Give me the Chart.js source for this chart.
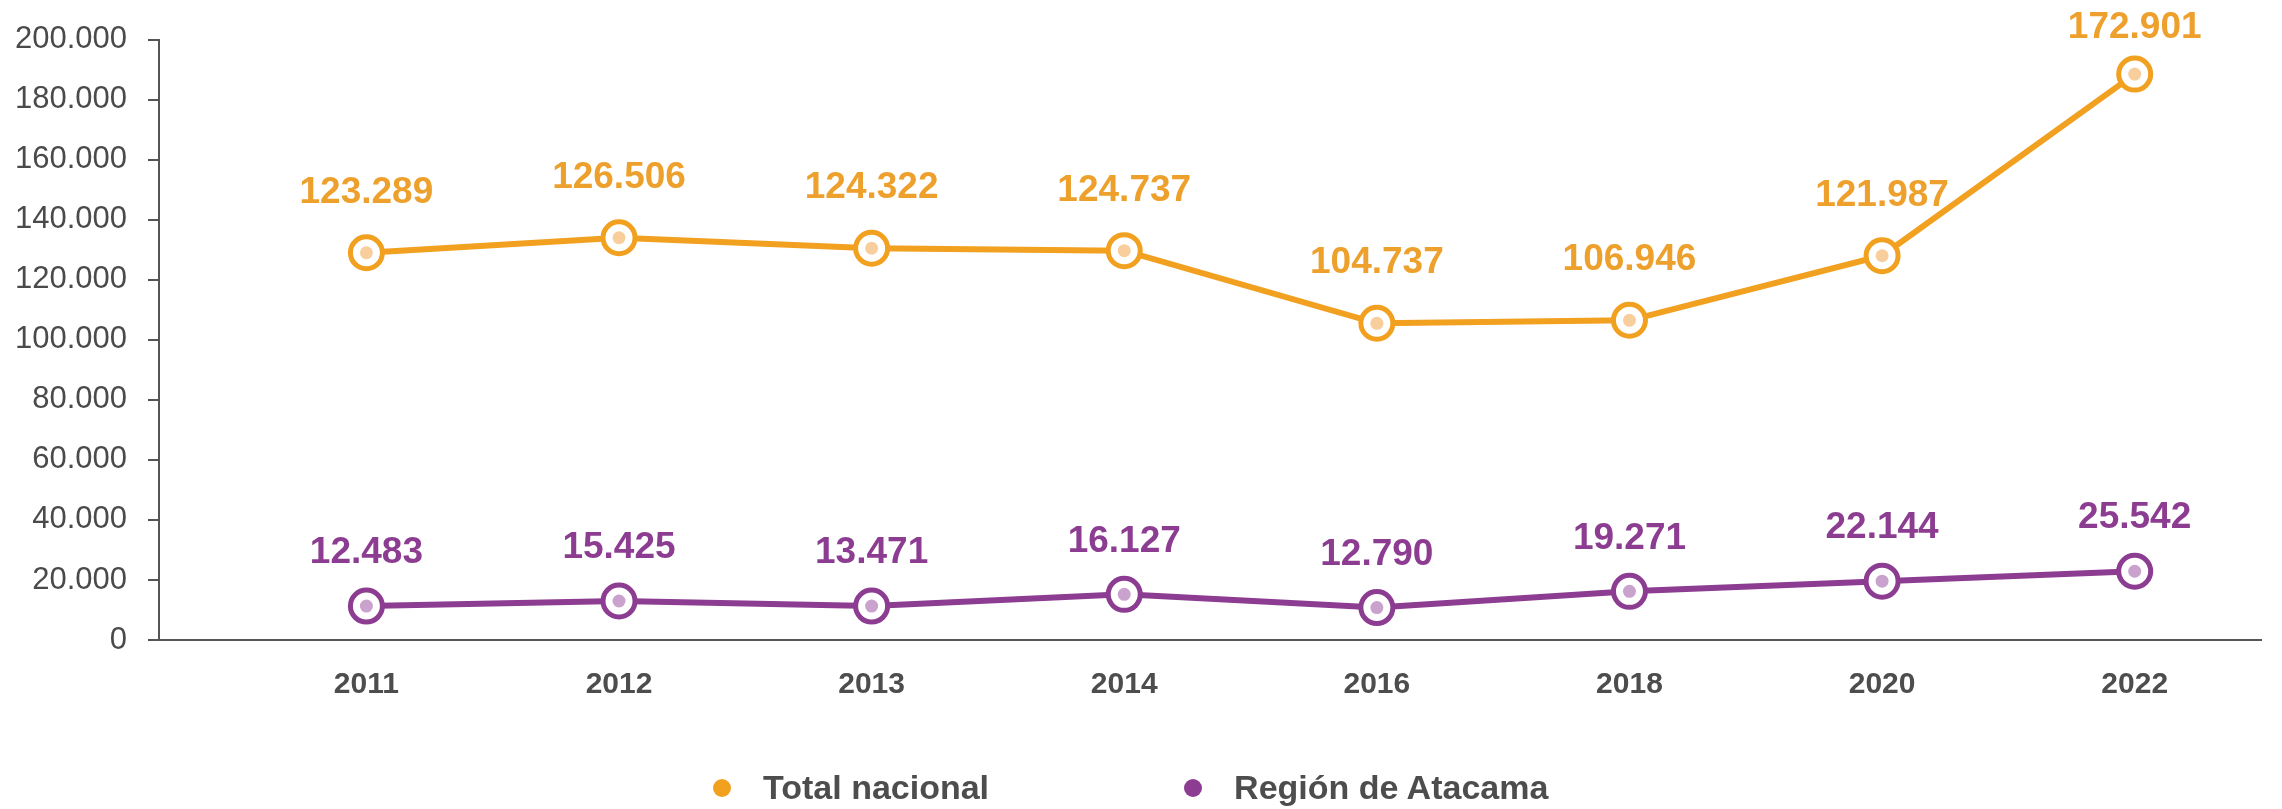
<!DOCTYPE html>
<html>
<head>
<meta charset="utf-8">
<script src="https://cdn.jsdelivr.net/npm/chart.js@4.4.1/dist/chart.umd.min.js"></script>
<style>
  html, body { margin: 0; padding: 0; background: #fff; }
  #wrap { position: relative; width: 2282px; height: 809px; }
  #leyenda {
    position: absolute; left: 713px; top: 768px;
    display: flex; align-items: center; gap: 195px;
    font: bold 34px "Liberation Sans", Arial, sans-serif; color: #4d4d4d;
  }
  #leyenda .item { display: flex; align-items: center; }
  #leyenda .dot { width: 18px; height: 18px; border-radius: 50%; margin-right: 32px; }
</style>
</head>
<body>
<div id="wrap">
  <canvas id="myChart" width="2282" height="809"></canvas>
  <div id="leyenda"></div>
</div>
<script>
// años del eje x
var anios = ['2011', '2012', '2013', '2014', '2016', '2018', '2020', '2022'];

var nacional = [129000, 134000, 130500, 129700, 105500, 106500, 128000, 188500];
var nacionalEtiquetas = ['123.289', '126.506', '124.322', '124.737', '104.737', '106.946', '121.987', '172.901'];

// Región de Atacama
var atacama = [11300, 13000, 11300, 15200, 10800, 16200, 19600, 22900];
var atacamaEtiquetas = ['12.483', '15.425', '13.471', '16.127', '12.790', '19.271', '22.144', '25.542'];

var fuente = '"Liberation Sans", Arial, sans-serif';

function puntos(valores) {
  var out = [];
  for (var i = 0; i < valores.length; i++) {
    out.push({ x: i, y: valores[i] });
  }
  return out;
}

// etiquetas sobre los puntos (antes de la linea) y punto interior claro (despues)
var extras = {
  id: 'extras',
  beforeDatasetsDraw: function(chart) {
    var ctx = chart.ctx;
    chart.data.datasets.forEach(function(ds, k) {
      var meta = chart.getDatasetMeta(k);
      ctx.save();
      ctx.font = 'bold 37px ' + fuente;
      ctx.fillStyle = ds.colorTexto;
      ctx.textAlign = 'center';
      ctx.textBaseline = 'middle';
      meta.data.forEach(function(p, i) {
        var y = Math.max(p.y - ds.desplazamiento, 28);
        ctx.fillText(ds.etiquetas[i], p.x, y);
      });
      ctx.restore();
    });
  },
  afterDatasetsDraw: function(chart) {
    var ctx = chart.ctx;
    chart.data.datasets.forEach(function(ds, k) {
      var meta = chart.getDatasetMeta(k);
      ctx.save();
      ctx.fillStyle = ds.puntoInterior;
      meta.data.forEach(function(p) {
        ctx.beginPath();
        ctx.arc(p.x, p.y, 6.5, 0, Math.PI * 2);
        ctx.fill();
      });
      ctx.restore();
    });
  }
};

var graficar = document.getElementById('myChart');
var grafico = new Chart(graficar, {
  type: 'line',
  data: {
    datasets: [{
      label: 'Total nacional',
      data: puntos(nacional),
      etiquetas: nacionalEtiquetas,
      borderColor: '#F1A020',
      colorTexto: '#EEA02C',
      puntoInterior: '#F8CF9C',
      desplazamiento: 60,
      borderWidth: 6,
      pointRadius: 16,
      pointBorderWidth: 5,
      pointBackgroundColor: '#ffffff',
      pointBorderColor: '#F1A020',
      tension: 0
    }, {
      label: 'Región de Atacama',
      data: puntos(atacama),
      etiquetas: atacamaEtiquetas,
      borderColor: '#8C3D91',
      colorTexto: '#8C3D91',
      puntoInterior: '#C9A2CD',
      desplazamiento: 53,
      borderWidth: 6,
      pointRadius: 16,
      pointBorderWidth: 5,
      pointBackgroundColor: '#ffffff',
      pointBorderColor: '#8C3D91',
      tension: 0
    }]
  },
  options: {
    responsive: false,
    animation: false,
    devicePixelRatio: 1,
    layout: { padding: { top: 38, right: 4, bottom: 79, left: 0 } },
    plugins: {
      legend: { display: false },
      tooltip: { enabled: false }
    },
    scales: {
      x: {
        type: 'linear',
        min: -0.821,
        max: 7.5,
        afterBuildTicks: function(scale) {
          scale.ticks = anios.map(function(a, i) { return { value: i }; });
        },
        ticks: {
          autoSkip: false,
          maxRotation: 0,
          padding: 27,
          color: '#4d4d4d',
          font: { family: fuente, size: 30, weight: 'bold' },
          callback: function(v) { return anios[v]; }
        },
        grid: { display: false, drawTicks: false },
        border: { display: true, color: '#555555', width: 2 }
      },
      y: {
        min: 0,
        max: 200000,
        afterFit: function(scale) { scale.width = 159; },
        ticks: {
          stepSize: 20000,
          padding: 21,
          color: '#4a4a4a',
          font: { family: fuente, size: 31 },
          callback: function(v) {
            return String(v).replace(/\B(?=(\d{3})+(?!\d))/g, '.');
          }
        },
        grid: {
          drawOnChartArea: false,
          drawTicks: true,
          tickLength: 11,
          color: '#555555',
          lineWidth: 2
        },
        border: { display: true, color: '#555555', width: 2 }
      }
    }
  },
  plugins: [extras]
});

// leyenda en html
var leyenda = document.getElementById('leyenda');
grafico.data.datasets.forEach(function(ds) {
  var item = document.createElement('div');
  item.className = 'item';
  var dot = document.createElement('span');
  dot.className = 'dot';
  dot.style.background = ds.borderColor;
  var txt = document.createElement('span');
  txt.textContent = ds.label;
  item.appendChild(dot);
  item.appendChild(txt);
  leyenda.appendChild(item);
});
</script>
</body>
</html>
